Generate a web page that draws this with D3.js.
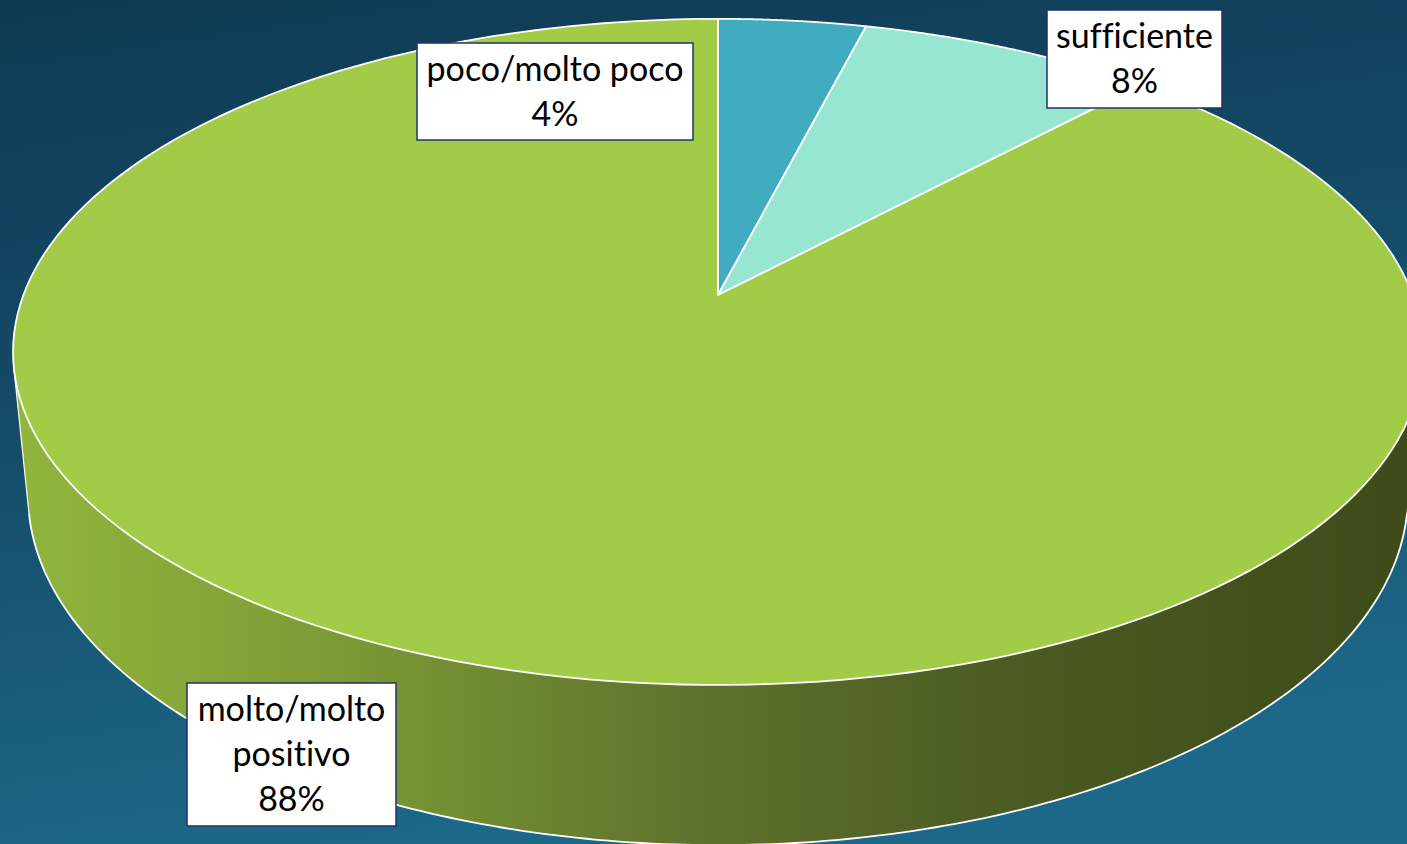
<!DOCTYPE html>
<html><head><meta charset="utf-8">
<script src="https://cdn.jsdelivr.net/npm/d3@7/dist/d3.min.js"></script>
<style>html,body{margin:0;padding:0;overflow:hidden;background:#123f58}
text{font-variant-ligatures:none;font-feature-settings:"liga" 0,"clig" 0,"dlig" 0}</style>
</head><body>
<svg id="chart" width="1407" height="844"></svg>
<script>
// ---- data ----
const categories = ["poco/molto poco", "sufficiente", "molto/molto positivo"];
const values = [4, 8, 88];
const labelLines = [["poco/molto poco"], ["sufficiente"], ["molto/molto", "positivo"]];

// ---- styles / layout ----
const sliceColors = ["#41abbf", "#96e6d2", "#a2cc48"];
const labelBoxes = [ {x:417, y:43, w:276, h:97}, {x:1047, y:10, w:175, h:98}, {x:187, y:683, w:209, h:143} ];
const W = 1407, H = 844;
// perspective camera
const cam = {cx:718, cy:295, F:3598, L:5.18, sa:0.4655, ca:0.885, t:0.235};

function proj(theta, r, z) {
  const X = r*Math.sin(theta), Y = r*Math.cos(theta);
  const zc = Y*cam.ca + cam.L - z*cam.sa;
  const yc = Y*cam.sa + z*cam.ca;
  return [cam.cx + cam.F*X/zc, cam.cy - cam.F*yc/zc];
}

const svg = d3.select("#chart");
const defs = svg.append("defs");
const bg = defs.append("linearGradient").attr("id","bg").attr("x1",0).attr("y1",0).attr("x2",0.25).attr("y2",1);
bg.append("stop").attr("offset","0%").attr("stop-color","#0f3a53");
bg.append("stop").attr("offset","45%").attr("stop-color","#144a66");
bg.append("stop").attr("offset","100%").attr("stop-color","#1c6888");
svg.append("rect").attr("width",W).attr("height",H).attr("fill","url(#bg)");

const wallGrad = defs.append("linearGradient").attr("id","wall").attr("gradientUnits","userSpaceOnUse")
  .attr("x1",13).attr("y1",0).attr("x2",1423).attr("y2",0);
[["0%","#91b63d"],["20%","#7f9f36"],["50%","#5d702c"],["72%","#4a5a21"],["100%","#3d4b19"]]
  .forEach(([o,c]) => wallGrad.append("stop").attr("offset",o).attr("stop-color",c));

const pie = d3.pie().sort(null).value(d => d)(values);
const line = d3.line();
const N = 200;

// front wall of the pie (visible rim)
const thMin = Math.acos(-1/(cam.L*cam.ca));
const thMax = 2*Math.PI - thMin;
const wallScale = d3.scaleLinear().domain([0, N]).range([thMin, thMax]);
const topPts = d3.range(N+1).map(i => proj(wallScale(i), 1, 0));
const botPts = d3.range(N+1).map(i => proj(wallScale(i), 1, -cam.t));
pie.forEach((p, i) => {
  const a0 = Math.max(p.startAngle, thMin), a1 = Math.min(p.endAngle, thMax);
  if (a1 <= a0) return;
  const sc = d3.scaleLinear().domain([0, N]).range([a0, a1]);
  const tp = d3.range(N+1).map(k => proj(sc(k), 1, 0));
  const bp = d3.range(N+1).map(k => proj(sc(k), 1, -cam.t)).reverse();
  svg.append("path").attr("d", line(tp.concat(bp)) + "Z")
    .attr("fill", i === 2 ? "url(#wall)" : d3.color(sliceColors[i]).darker(1.2))
    .attr("stroke","none");
});
svg.append("path").attr("d", line(botPts)).attr("fill","none").attr("stroke","#ffffff").attr("stroke-width",1.8);
svg.append("path").attr("d", line([topPts[0], botPts[0]])).attr("fill","none").attr("stroke","#ffffff").attr("stroke-width",1.2);
svg.append("path").attr("d", line([topPts[N], botPts[N]])).attr("fill","none").attr("stroke","#ffffff").attr("stroke-width",1.2);

// top faces
pie.forEach((p, i) => {
  const sc = d3.scaleLinear().domain([0, N]).range([p.startAngle, p.endAngle]);
  const pts = [proj(0,0,0)].concat(d3.range(N+1).map(k => proj(sc(k), 1, 0)));
  svg.append("path").attr("d", line(pts) + "Z")
    .attr("fill", sliceColors[i]).attr("stroke","#ffffff").attr("stroke-width",1.8)
    .attr("stroke-linejoin","round");
});

// labels
const fontSize = 34, lineH = 45;
pie.forEach((p, i) => {
  const b = labelBoxes[i];
  const g = svg.append("g");
  g.append("rect").attr("x",b.x).attr("y",b.y).attr("width",b.w).attr("height",b.h)
    .attr("fill","#ffffff").attr("stroke","#1f3368").attr("stroke-width",1.5);
  const lines = labelLines[i].concat([Math.round(values[i]) + "%"]);
  const totalH = lines.length * lineH;
  const y0 = b.y + (b.h - totalH)/2;
  lines.forEach((s, k) => {
    g.append("text").attr("x", b.x + b.w/2).attr("y", y0 + k*lineH + lineH*0.5)
      .attr("dy","0.35em").attr("text-anchor","middle")
      .attr("font-family","Lato, 'Noto Sans', sans-serif").attr("font-size",fontSize)
      .attr("fill","#000000").text(s);
  });
});
</script>
</body></html>
